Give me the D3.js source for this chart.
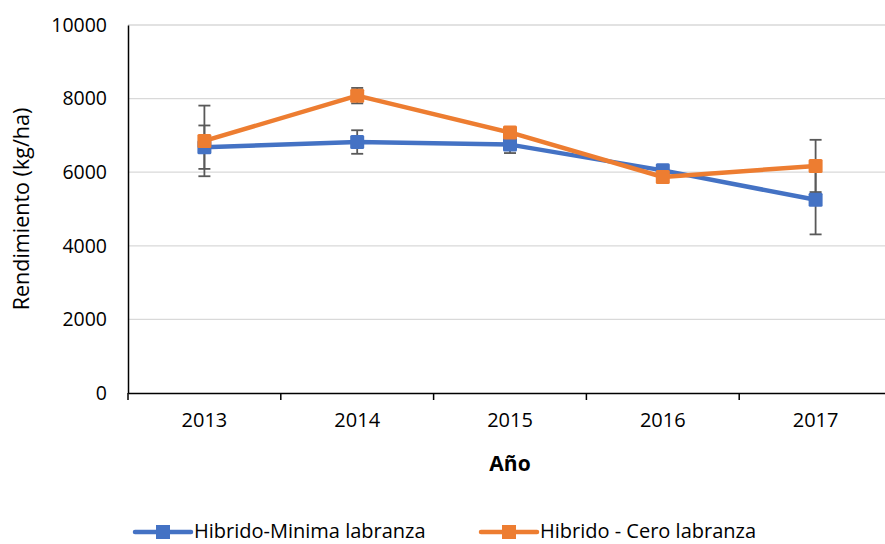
<!DOCTYPE html>
<html>
<head>
<meta charset="utf-8">
<script src="https://cdn.jsdelivr.net/npm/d3@7"></script>
<style>
  body { margin: 0; background: #fff; }
  svg { font-family: "Open Sans", sans-serif; }
</style>
</head>
<body>
<svg width="885" height="544"></svg>
<script>
var years = ["2013", "2014", "2015", "2016", "2017"];
var minimaVals = [6680, 6820, 6750, 6050, 5250];
var minimaErr = [590, 320, 230, 100, 940];
var ceroVals = [6850, 8080, 7080, 5870, 6170];
var ceroErr = [960, 210, 120, 100, 710];
var yTicks = [0, 2000, 4000, 6000, 8000, 10000];

var series = [
  { name: "Hibrido-Minima labranza", values: minimaVals, err: minimaErr, color: "#4472C4" },
  { name: "Hibrido - Cero labranza", values: ceroVals, err: ceroErr, color: "#ED7D31" }
];

var svg = d3.select("svg"),
    margin = { top: 25, right: -7, bottom: 151, left: 128 },
    width = 885 - margin.left - margin.right,
    height = 544 - margin.top - margin.bottom,
    g = svg.append("g").attr("transform", "translate(" + margin.left + "," + margin.top + ")");

var x = d3.scaleBand().domain(years).range([0, width]),
    y = d3.scaleLinear().domain([0, 10000]).range([height, 0]);

// gridlines
g.append("g")
    .selectAll("line")
    .data(yTicks.filter(function(d) { return d > 0; }))
    .enter().append("line")
      .attr("x1", 0).attr("x2", width)
      .attr("y1", function(d) { return y(d); })
      .attr("y2", function(d) { return y(d); })
      .attr("stroke", "#d9d9d9")
      .attr("stroke-width", 1.3);

// y axis
var yAxis = g.append("g")
    .call(d3.axisLeft(y).tickValues(yTicks).tickSize(0).tickPadding(21).tickFormat(d3.format("d")));
yAxis.select(".domain").attr("stroke", "#000").attr("stroke-width", 1.5);
yAxis.selectAll("text").attr("font-size", "19.5px").attr("fill", "#000").attr("font-family", "Open Sans, sans-serif");

// x axis
var xAxis = g.append("g")
    .attr("transform", "translate(0," + height + ")")
    .call(d3.axisBottom(x).tickSize(0).tickPadding(20));
xAxis.select(".domain").attr("stroke", "#000").attr("stroke-width", 1.5);
xAxis.selectAll("text").attr("font-size", "20px").attr("fill", "#000").attr("font-family", "Open Sans, sans-serif");

// tick marks between categories
xAxis.selectAll(".sep")
    .data(d3.range(years.length + 1))
    .enter().append("line")
      .attr("class", "sep")
      .attr("x1", function(i) { return i * x.step(); })
      .attr("x2", function(i) { return i * x.step(); })
      .attr("y1", 0).attr("y2", 7)
      .attr("stroke", "#000").attr("stroke-width", 1.5);

// axis titles
svg.append("text")
    .attr("transform", "translate(29," + (margin.top + height / 2) + ") rotate(-90)")
    .attr("text-anchor", "middle")
    .attr("font-size", "21.5px")
    .text("Rendimiento (kg/ha)");

svg.append("text")
    .attr("x", 510).attr("y", 471)
    .attr("text-anchor", "middle")
    .attr("font-size", "21px")
    .attr("font-weight", "bold")
    .text("Año");

var cx = function(i) { return x(years[i]) + x.bandwidth() / 2; };

var line = d3.line()
    .x(function(d, i) { return cx(i); })
    .y(function(d) { return y(d); });

// error bars
series.forEach(function(s) {
  var eb = g.append("g").attr("stroke", "#595959").attr("stroke-width", 1.8);
  s.values.forEach(function(v, i) {
    var x0 = cx(i), y1 = y(v + s.err[i]), y2 = y(v - s.err[i]);
    eb.append("line").attr("x1", x0).attr("x2", x0).attr("y1", y1).attr("y2", y2);
    eb.append("line").attr("x1", x0 - 6).attr("x2", x0 + 6).attr("y1", y1).attr("y2", y1);
    eb.append("line").attr("x1", x0 - 6).attr("x2", x0 + 6).attr("y1", y2).attr("y2", y2);
  });
});

// lines and markers
series.forEach(function(s) {
  g.append("path")
      .datum(s.values)
      .attr("fill", "none")
      .attr("stroke", s.color)
      .attr("stroke-width", 4.5)
      .attr("stroke-linejoin", "round")
      .attr("d", line);
  g.selectAll(null)
      .data(s.values)
      .enter().append("rect")
        .attr("x", function(d, i) { return cx(i) - 7; })
        .attr("y", function(d) { return y(d) - 7; })
        .attr("width", 14).attr("height", 14)
        .attr("rx", 1.5)
        .attr("fill", s.color);
});

// legend
var legendX = [135, 481];
var leg = svg.append("g").selectAll("g")
    .data(series)
    .enter().append("g")
      .attr("transform", function(d, i) { return "translate(" + legendX[i] + ",532)"; });
leg.append("line")
    .attr("x1", 0).attr("x2", 56)
    .attr("stroke", function(d) { return d.color; })
    .attr("stroke-width", 4.5)
    .attr("stroke-linecap", "round");
leg.append("rect")
    .attr("x", 21).attr("y", -7).attr("width", 14).attr("height", 14)
    .attr("fill", function(d) { return d.color; });
leg.append("text")
    .attr("x", 59).attr("y", 6)
    .attr("font-size", "20px")
    .text(function(d) { return d.name; });
</script>
</body>
</html>
